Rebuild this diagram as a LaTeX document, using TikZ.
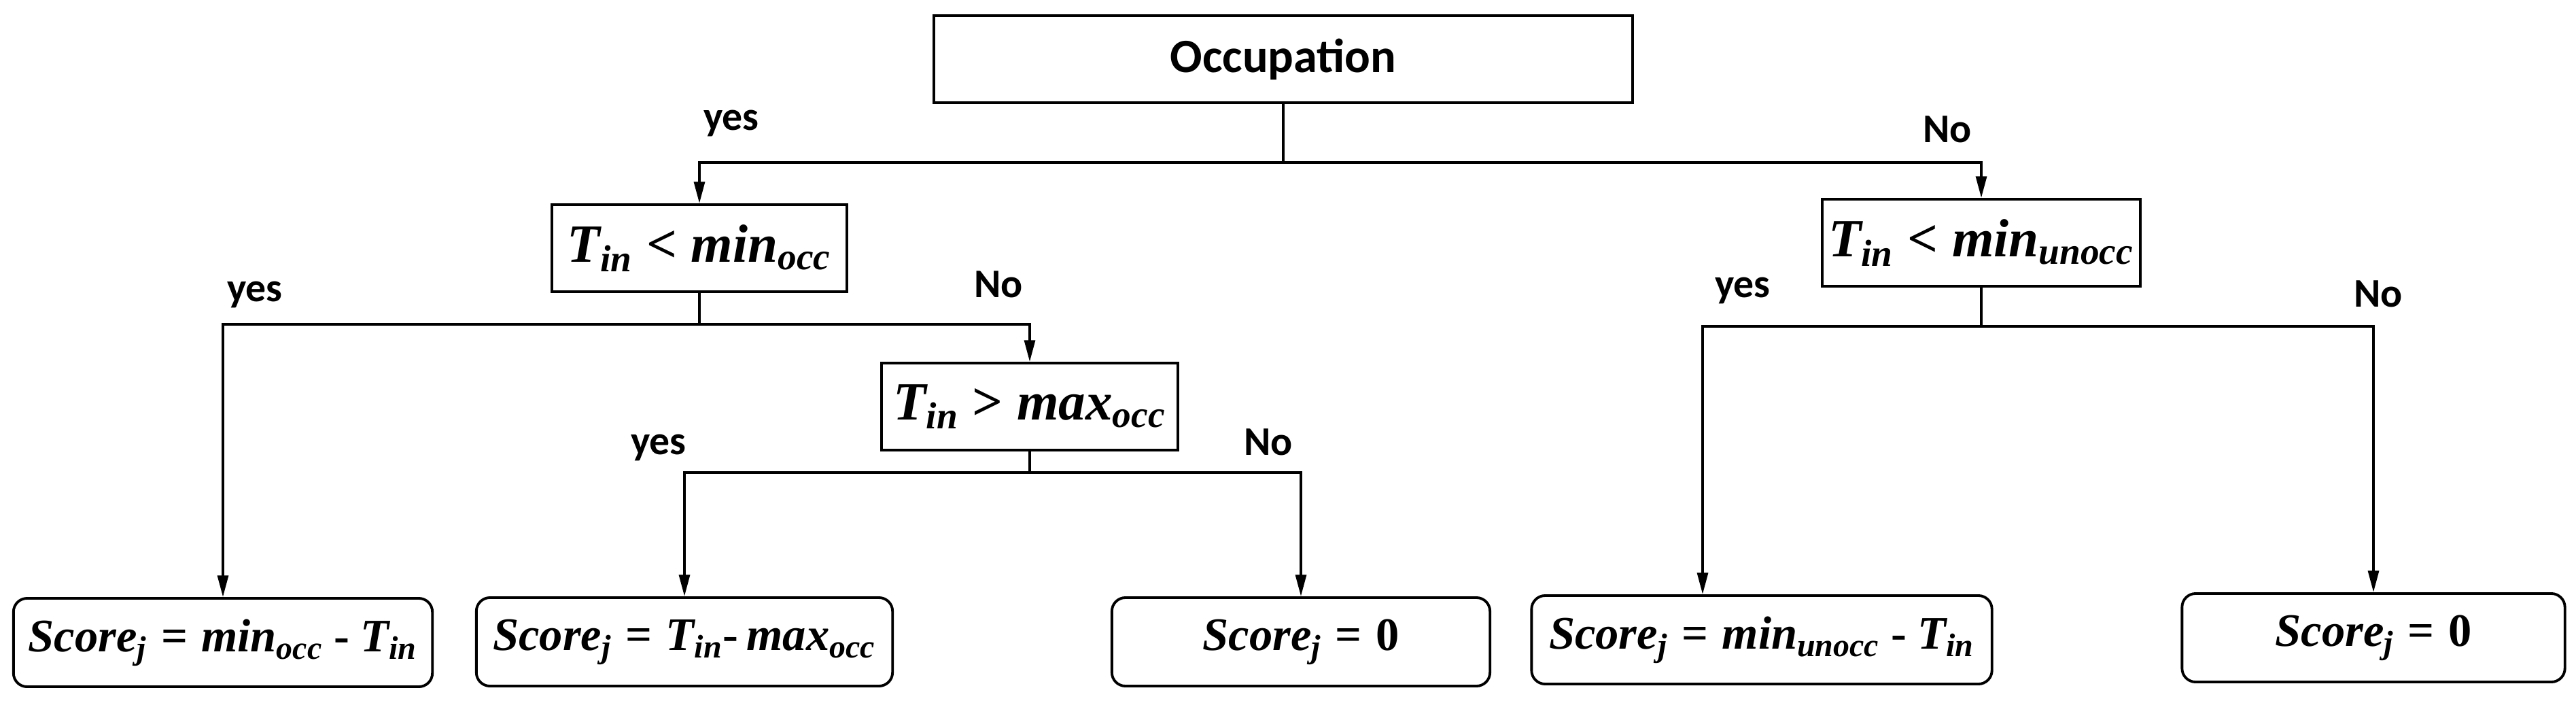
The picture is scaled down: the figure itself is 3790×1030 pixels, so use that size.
\documentclass[tikz,border=0pt]{standalone}
\usepackage{fontspec}
\setmainfont{Carlito}
\newfontfamily\mf{Liberation Serif}
\usepackage{amsmath}
\usetikzlibrary{arrows.meta}
\newcommand\V[1]{\text{\mf\bfseries\itshape #1}}
\newcommand\R[1]{\text{\mf\bfseries #1}}
\begin{document}
\begin{tikzpicture}[x=0.01cm,y=-0.01cm,
  box/.style={draw, line width=1.1pt, inner sep=0pt, align=center},
  cond/.style={box, minimum height=1.28cm, font=\fontsize{22.5}{26}\selectfont},
  result/.style={box, rounded corners=0.2cm, minimum height=1.3cm, font=\fontsize{19.5}{23}\selectfont},
  link/.style={line width=1pt},
  arr/.style={link, -{Triangle[length=9pt,width=4.5pt]}},
  lbl/.style={font=\fontsize{17}{20}\selectfont\bfseries, inner sep=0pt}]
\useasboundingbox (0,0) rectangle (3790,1030);

\node[box, minimum width=10.28cm, minimum height=1.28cm, font=\fontsize{20}{24}\selectfont\bfseries] (occ) at (1888,87) {Occupation};
\node[cond, minimum width=4.34cm] (c1) at (1029,365) {$\V{T}_{\V{in}} \mathrel{\R{<}} \V{min}_{\V{occ}}$};
\node[cond, minimum width=4.35cm] (c2) at (1515,598) {$\V{T}_{\V{in}} \mathrel{\R{>}} \V{max}_{\V{occ}}$};
\node[cond, minimum width=4.67cm] (c3) at (2915,357) {$\V{T}_{\V{in}} \mathrel{\R{<}} \V{min}_{\V{unocc}}$};

\node[result, minimum width=6.16cm] (r1) at (328,945) {$\V{Score}_{\V{j}} \mathrel{\R{=}} \V{min}_{\V{occ}} \mathbin{\R{-}} \V{T}_{\V{in}}$};
\node[result, minimum width=6.12cm] (r2) at (1007,944) {$\V{Score}_{\V{j}} \mathrel{\R{=}} \V{T}_{\V{in}}\R{-}\,\V{max}_{\V{occ}}$};
\node[result, minimum width=5.56cm] (r3) at (1914,944) {$\V{Score}_{\V{j}} \mathrel{\R{=}} \R{0}$};
\node[result, minimum width=6.77cm] (r4) at (2592,941) {$\V{Score}_{\V{j}} \mathrel{\R{=}} \V{min}_{\V{unocc}} \mathbin{\R{-}} \V{T}_{\V{in}}$};
\node[result, minimum width=5.63cm] (r5) at (3492,938) {$\V{Score}_{\V{j}} \mathrel{\R{=}} \R{0}$};

\draw[link] (occ.south) -- ++(0,86) coordinate (j0);
\draw[arr] (j0) -| (c1.north);
\draw[arr] (j0) -| (c3.north);

\draw[link] (c1.south) -- ++(0,46) coordinate (j1);
\draw[arr] (j1) -| (r1.north);
\draw[arr] (j1) -| (c2.north);

\draw[link] (c2.south) -- ++(0,31) coordinate (j2);
\draw[arr] (j2) -| (r2.north);
\draw[arr] (j2) -| (r3.north);

\draw[link] (c3.south) -- ++(0,57) coordinate (j3);
\coordinate (x4) at (2505,0);
\draw[arr] (j3) -| (r4.north -| x4);
\draw[arr] (j3) -| (r5.north);

\node[lbl] (l1) at (1076,181) {yes};
\node[lbl] (l2) at (2865,190) {No};
\node[lbl] (l3) at (375,433) {yes};
\node[lbl] (l4) at (1469,418) {No};
\node[lbl] (l5) at (969,658) {yes};
\node[lbl] (l6) at (1866,650) {No};
\node[lbl] (l7) at (2564,427) {yes};
\node[lbl] (l8) at (3499,432) {No};
\end{tikzpicture}
\end{document}
